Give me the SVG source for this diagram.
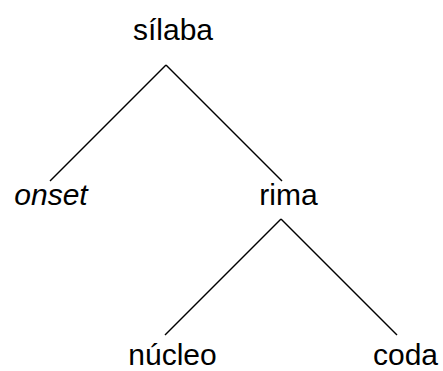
<svg xmlns="http://www.w3.org/2000/svg" width="443" height="371" viewBox="0 0 443 371">
<style>
text{font-family:"Liberation Sans",Arial,sans-serif;font-size:30px;fill:#000;text-anchor:middle}
.c line{stroke:#000;stroke-width:1.5}
</style>
<rect width="443" height="371" fill="#fff"/>
<g class="c" id="connectors">
<line x1="166" y1="65" x2="50" y2="181"/>
<line x1="166" y1="65" x2="282" y2="181"/>
<line x1="281" y1="219" x2="165" y2="335"/>
<line x1="281" y1="219" x2="397" y2="335"/>
</g>
<g id="silaba"><text x="173" y="40">sílaba</text></g>
<g id="onset"><text x="51" y="205" font-style="italic">onset</text></g>
<g id="rima"><text x="288.5" y="205">rima</text></g>
<g id="nucleo"><text x="172.5" y="365">núcleo</text></g>
<g id="coda"><text x="405.5" y="365">coda</text></g>
</svg>
